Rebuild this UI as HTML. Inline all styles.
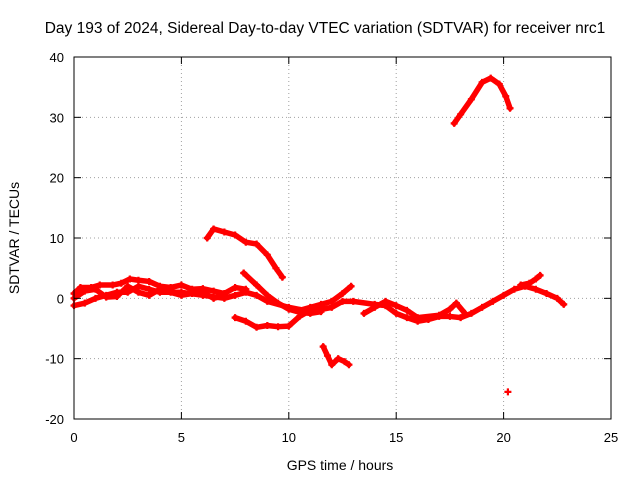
<!DOCTYPE html>
<html><head><meta charset="utf-8"><style>
body{margin:0;background:#fff;}
svg{display:block;font-family:"Liberation Sans",sans-serif;}
</style></head><body>
<svg id="chart" width="640" height="480" viewBox="0 0 640 480">
<rect width="640" height="480" fill="#fff"/>
<text x="325" y="33" text-anchor="middle" font-size="15.5">Day 193 of 2024, Sidereal Day-to-day VTEC variation (SDTVAR) for receiver nrc1</text>
<g id="grid"></g>
<g id="marks"></g>
<rect x="74" y="57" width="537" height="362" fill="none" stroke="#000" stroke-width="1"/>
<g id="ticks"></g>
<text x="340" y="470" text-anchor="middle" font-size="14">GPS time / hours</text>
<text x="19" y="238" text-anchor="middle" font-size="14" transform="rotate(-90 19 238)">SDTVAR / TECUs</text>
</svg>
<script>
const xTicks=[0,5,10,15,20,25];
const yTicks=[-20,-10,0,10,20,30,40];
const arch=[[17.7,29],[18,30.5],[18.5,33],[19,35.8],[19.4,36.5],[19.8,35.5],[20.1,33.5],[20.3,31.5]];
const upper=[[6.2,10],[6.5,11.5],[7,11],[7.5,10.5],[8,9.3],[8.5,9],[9,7.2],[9.4,5],[9.7,3.5]];
const desc=[[7.9,4.2],[8.5,2.2],[9,0.5],[9.5,-0.8],[10,-1.8],[10.5,-2.3],[11,-2.5],[11.5,-2.2]];
const lowLoop=[[7.5,-3.2],[8,-3.8],[8.5,-4.8],[9,-4.5],[9.5,-4.7],[10,-4.6],[10.5,-3],[11,-2],[11.5,-1.5]];
const dip=[[11.6,-8],[11.8,-9.5],[12,-11],[12.3,-10],[12.6,-10.5],[12.8,-11]];
const lone=[[20.2,-15.5]];
const band1=[[0,-1.2],[0.5,-0.8],[1,0],[1.5,0.5],[2,1],[2.5,1],[3,2],[3.5,1.5],[4,1],[5,1],[6,0.5],[7,0],[7.5,0.5],[8,1],[8.5,0.5],[9,-0.5],[10,-1.5],[11,-2.2],[12,-1.5],[12.5,-0.5],[13,-0.5],[14,-1],[14.5,-1.2],[15,-2.5],[15.5,-3.2],[16,-3.8],[16.5,-3.5],[17,-3],[17.5,-3],[18,-3.2],[18.5,-2.5],[19,-1.5],[19.5,-0.5],[20,0.5],[20.5,1.5],[21,2],[21.5,1.5],[22,0.8],[22.5,0],[22.8,-1]];
const band2=[[0,0.8],[0.3,1.8],[0.8,1.8],[1.2,2.2],[1.8,2.2],[2.2,2.5],[2.6,3.2],[3,3],[3.5,2.8],[4,2],[4.5,1.8],[5,2.2],[5.5,1.5],[6,1.6],[6.5,1.2],[7,0.8],[7.5,1.8],[8,1.5]];
const band3=[[0,0],[0.5,1.2],[1,1.5],[1.5,0.2],[2,0.3],[2.5,2],[3,1],[3.5,0.5],[4,1.5],[4.5,1],[5,0.5],[5.5,0.8],[6,1],[6.5,0],[7,0.5]];
const band4=[[10.5,-2],[11,-1.5],[11.5,-1],[12,-0.5],[12.5,0.8],[12.9,2]];
const band5=[[13.5,-2.5],[14,-1.5],[14.5,-0.5],[15,-1.2],[15.5,-2],[16,-3.2],[17,-2.8],[17.5,-1.8],[17.8,-0.8],[18.2,-2.5]];
const band6=[[20.8,2.2],[21.2,2.5],[21.5,3.2],[21.7,3.8]];
const seriesList=[arch,upper,desc,lowLoop,dip,lone,band1,band2,band3,band4,band5,band6];
const X=v=>74+(v-0)*537/25, Y=v=>419-(v+20)*362/60;
const ns="http://www.w3.org/2000/svg";
const grid=document.getElementById('grid'),ticks=document.getElementById('ticks'),marks=document.getElementById('marks');
function mk(t,a,p){const e=document.createElementNS(ns,t);for(const k in a)e.setAttribute(k,a[k]);p.appendChild(e);return e;}
xTicks.forEach(v=>{
 if(v>0&&v<25){const g=mk('line',{x1:X(v),x2:X(v),y1:57,y2:419,stroke:'#a0a0a0','stroke-dasharray':'1,3'},grid);
 
 }
 const t=mk('line',{x1:X(v),x2:X(v),y1:419,y2:412,stroke:'#000'},ticks);
 
 
 mk('line',{x1:X(v),x2:X(v),y1:57,y2:64,stroke:'#000'},ticks);
 const l=mk('text',{x:X(v),y:442,'text-anchor':'middle','font-size':13},ticks);l.textContent=v;
 
 
});
yTicks.forEach(v=>{
 if(v>-20&&v<40){const g=mk('line',{x1:74,x2:611,y1:Y(v),y2:Y(v),stroke:'#a0a0a0','stroke-dasharray':'1,3'},grid);
 
 }
 const t=mk('line',{x1:74,x2:81,y1:Y(v),y2:Y(v),stroke:'#000'},ticks);
 
 
 mk('line',{x1:604,x2:611,y1:Y(v),y2:Y(v),stroke:'#000'},ticks);
 const l=mk('text',{x:64,y:Y(v)+5,'text-anchor':'end','font-size':13},ticks);l.textContent=v;
 
 
});
seriesList.forEach(s=>{
 if(s.length>1){const p=mk('polyline',{points:s.map(d=>X(d[0])+','+Y(d[1])).join(' '),fill:'none',stroke:'#f00','stroke-width':5.5,'stroke-linejoin':'round','stroke-linecap':'round'},marks);
 
 }
 s.forEach(d=>{const m=mk('path',{d:`M${X(d[0])-3.5},${Y(d[1])}h7M${X(d[0])},${Y(d[1])-3.5}v7`,stroke:'#f00','stroke-width':2.2},marks);
 
 });
});
</script>
</body></html>
